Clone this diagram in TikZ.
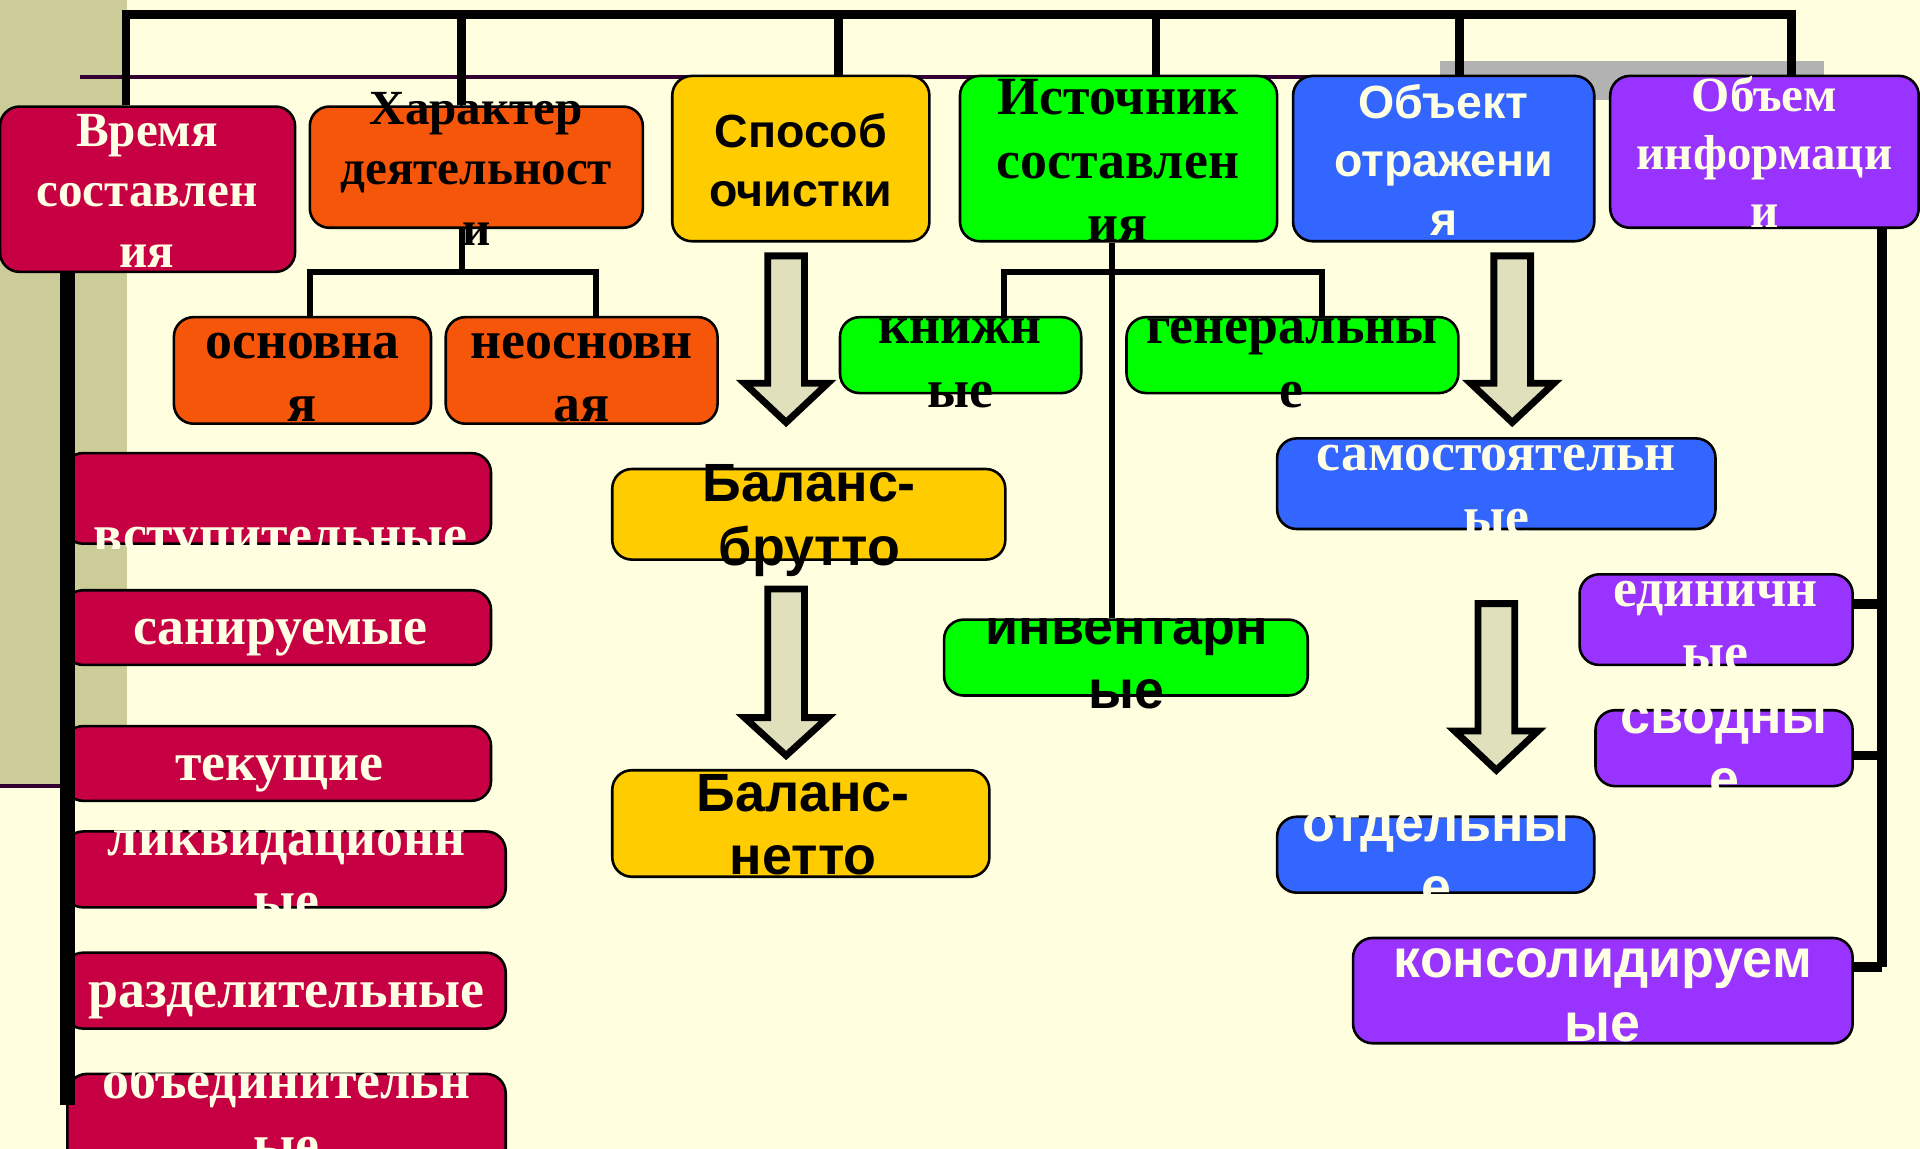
\documentclass[tikz,border=0pt]{standalone}
\usepackage{fontspec}
\setmainfont{Liberation Serif}
\setsansfont{Liberation Sans}
\usetikzlibrary{fit,calc}
\pgfdeclarelayer{back}
\pgfdeclarelayer{lines}
\pgfsetlayers{back,lines,main}
\definecolor{bg}{HTML}{FFFFE0}
\definecolor{strip}{HTML}{CCCC99}
\definecolor{crim}{HTML}{C60042}
\definecolor{orng}{HTML}{F5560A}
\definecolor{yel}{HTML}{FFCC00}
\definecolor{grn}{HTML}{00FF00}
\definecolor{blu}{HTML}{3366FF}
\definecolor{purp}{HTML}{9933FF}
\definecolor{arrfill}{HTML}{E0E0BC}
\definecolor{graybar}{HTML}{B2B2B2}
\definecolor{plum}{HTML}{330033}
\definecolor{wtxt}{HTML}{FFFFE6}
\tikzset{
  box/.style={draw=black, line width=0.6pt, rounded corners=0.16cm, inner sep=0pt},
  conn/.style={draw=black, line width=1.4pt},
  bus/.style={draw=black, line width=2pt},
  vline/.style={draw=black, line width=2.3pt},
  tA/.style={font=\fontsize{12.5}{14.8}\selectfont\bfseries, align=center, inner sep=0pt},
  tB/.style={font=\fontsize{11.4}{14.0}\selectfont\bfseries, align=center, inner sep=0pt},
  tC/.style={font=\fontsize{11.4}{13.4}\selectfont\bfseries, align=center, inner sep=0pt},
  sA/.style={font=\fontsize{12.5}{14.8}\selectfont\sffamily\bfseries, align=center, inner sep=0pt},
  sB/.style={font=\fontsize{10.8}{13.5}\selectfont\sffamily\bfseries, align=center, inner sep=0pt},
  wt/.style={text=wtxt},
  blockarrow/.style={draw=black, line width=1.6pt, fill=arrfill, line join=miter}
}
\newcommand\blockarrowpath[4]{%
  \draw[blockarrow] (#1-15,#2) -- (#1+15,#2) -- (#1+15,#3) -- (#1+34,#3) -- (#1,#4) -- (#1-34,#3) -- (#1-15,#3) -- cycle;}
\begin{document}
\begin{tikzpicture}[x=0.01cm,y=-0.01cm]
\useasboundingbox (0,0) rectangle (1568,938);
\begin{pgfonlayer}{back}
  \fill[bg] (0,0) rectangle (1568,938);
  \fill[strip] (0,0) rectangle (104,642);
  \draw[plum, line width=0.9pt] (0,642) -- (55,642);
  \draw[plum, line width=0.9pt] (65,63) -- (1180,63);
  \fill[graybar] (1176,50) rectangle (1490,82);
\end{pgfonlayer}

% ---------- top level boxes
\node[box, fill=crim, fit={(0,87)(241,222)}] (vremya) {};
\node[box, fill=orng, fit={(253,87)(525,186)}] (harakter) {};
\node[box, fill=yel,  fit={(549,62)(759,197)}] (sposob) {};
\node[box, fill=grn,  fit={(784,62)(1043,197)}] (istoch) {};
\node[box, fill=blu,  fit={(1056,62)(1302,197)}] (obekt) {};
\node[box, fill=purp, fit={(1315,62)(1567,186)}] (obem) {};

% ---------- second level boxes
\node[box, fill=orng, fit={(142,259)(352,346)}] (osn) {};
\node[box, fill=orng, fit={(364,259)(586,346)}] (neosn) {};
\node[box, fill=grn,  fit={(686,259)(883,321)}] (knizh) {};
\node[box, fill=grn,  fit={(920,259)(1191,321)}] (gener) {};
\node[box, fill=grn,  fit={(771,506)(1068,568)}] (invent) {};
\node[box, fill=yel,  fit={(500,383)(821,457)}] (brutto) {};
\node[box, fill=yel,  fit={(500,629)(808,716)}] (netto) {};
\node[box, fill=blu,  fit={(1043,358)(1401,432)}] (samost) {};
\node[box, fill=blu,  fit={(1043,667)(1302,729)}] (otdel) {};
\node[box, fill=purp, fit={(1290,469)(1513,543)}] (edin) {};
\node[box, fill=purp, fit={(1303,580)(1513,642)}] (svod) {};
\node[box, fill=purp, fit={(1105,766)(1513,852)}] (konsol) {};

% left column
\node[box, fill=crim, fit={(52,370)(401,444)}] (vstup) {};
\node[box, fill=crim, fit={(52,482)(401,543)}] (sanir) {};
\node[box, fill=crim, fit={(52,593)(401,654)}] (tekush) {};
\node[box, fill=crim, fit={(52,679)(413,741)}] (likvid) {};
\node[box, fill=crim, fit={(52,778)(413,840)}] (razdel) {};
\node[box, fill=crim, fit={(55,877)(413,965)}] (obed) {};

% ---------- connectors
\coordinate (busL) at (103,12);
\coordinate (busR) at (1463,12);
\coordinate (d2) at (377,12);
\coordinate (d3) at (685,12);
\coordinate (d4) at (944,12);
\coordinate (d5) at (1192,12);
\coordinate (hj) at (377,222);
\coordinate (h1) at (253,222);
\coordinate (h2) at (487,222);
\coordinate (iv) at (908,222);
\coordinate (i1) at (820,222);
\coordinate (i2) at (1080,222);
\coordinate (lbot) at (55,902);
\coordinate (rv) at (1537,200);
\coordinate (r1) at (1537,493);
\coordinate (r2) at (1537,617);
\coordinate (r3) at (1537,790);
\begin{pgfonlayer}{lines}
  \draw[bus] (busL |- vremya.north) -- (busL) -- (busR) -- (busR |- obem.north);
  \draw[bus] (d2) -- (d2 |- harakter.north);
  \draw[bus] (d3) -- (d3 |- sposob.north);
  \draw[bus] (d4) -- (d4 |- istoch.north);
  \draw[bus] (d5) -- (d5 |- obekt.north);
  \draw[conn] (harakter.south -| hj) -- (hj);
  \draw[conn] (osn.north -| h1) -- (h1) -- (h2) -- (h2 |- neosn.north);
  \draw[conn] (istoch.south -| iv) -- (invent.north -| iv);
  \draw[conn] (knizh.north -| i1) -- (i1) -- (i2) -- (i2 |- gener.north);
  \draw[vline] (obem.south -| rv) -- (r3);
  \draw[vline] (r1) -- (r1 -| edin.east);
  \draw[vline] (r2) -- (r2 -| svod.east);
  \draw[vline] (r3) -- (r3 -| konsol.east);
\end{pgfonlayer}
\draw[black, line width=3.4pt] (vremya.south -| lbot) -- (lbot);

% block arrows
\blockarrowpath{642}{209}{313}{345}
\blockarrowpath{642}{481}{586}{617}
\blockarrowpath{1235}{209}{313}{345}
\blockarrowpath{1222}{493}{597}{629}

% ---------- texts
\node[tB, wt] (tvremya) at (120,159) {\strut Время\\\strut составлен\\\strut ия};
\node[tB] (tharakter) at (389,141) {\strut Характер\\\strut деятельност\\\strut и};
\node[sB] (tsposob) at (654,135) {\strut Способ\\\strut очистки};
\node[tA] (tistoch) at (913,135) {\strut Источник\\\strut составлен\\\strut ия};
\node[sB, wt] (tobekt) at (1179,135) {\strut Объект\\\strut отражени\\\strut я};
\node[tC, wt] (tobem) at (1441,129) {\strut Объем\\\strut информаци\\\strut и};

\node[tA] (tosn) at (247,308) {\strut основна\\\strut я};
\node[tA] (tneosn) at (475,308) {\strut неосновн\\\strut ая};
\begin{scope}
  \clip (knizh.north west) rectangle ([yshift=-1cm]knizh.south east);
  \node[tA] (tknizh) at (784,296) {\strut книжн\\\strut ые};
\end{scope}
\begin{scope}
  \clip (gener.north west) rectangle ([yshift=-1cm]gener.south east);
  \node[tA] (tgener) at (1055,296) {\strut генеральны\\\strut е};
\end{scope}
\begin{scope}
  \clip (invent.north west) rectangle ([yshift=-1cm]invent.south east);
  \node[sA] (tinvent) at (920,542) {\strut инвентарн\\\strut ые};
\end{scope}
\node[sA] (tbrutto) at (661,425) {\strut Баланс-\\\strut брутто};
\node[sA] (tnetto) at (656,678) {\strut Баланс-\\\strut нетто};
\begin{scope}
  \clip (samost.north west) rectangle ([yshift=-0.03cm]samost.south east);
  \node[tA, wt] (tsamost) at (1222,400) {\strut самостоятельн\\\strut ые};
\end{scope}
\begin{scope}
  \clip (otdel.north west) rectangle ([yshift=-0.02cm]otdel.south east);
  \node[sA, wt] (totdel) at (1173,703) {\strut отдельны\\\strut е};
\end{scope}
\begin{scope}
  \clip ([yshift=0.2cm]edin.north west) rectangle ([yshift=-0.02cm]edin.south east);
  \node[tA, wt] (tedin) at (1401,511) {\strut единичн\\\strut ые};
\end{scope}
\begin{scope}
  \clip (svod.north west) rectangle ([yshift=-0.02cm]svod.south east);
  \node[sA, wt] (tsvod) at (1408,615) {\strut сводны\\\strut е};
\end{scope}
\node[sA, wt] (tkonsol) at (1309,814) {\strut консолидируем\\\strut ые};

\begin{scope}
  \clip ([yshift=0.5cm]vstup.north west) rectangle ([yshift=-0.03cm]vstup.south east);
  \node[tA, wt] (tvstup) at (229,441) {\strut вступительные};
\end{scope}
\node[tA, wt] (tsanir) at (229,516) {\strut санируемые};
\node[tA, wt] (ttekush) at (228,627) {\strut текущие};
\begin{scope}
  \clip (likvid.north west) rectangle ([yshift=-0.02cm]likvid.south east);
  \node[tA, wt] (tlikvid) at (234,714) {\strut ликвидационн\\\strut ые};
\end{scope}
\node[tA, wt] (trazdel) at (234,812) {\strut разделительные};
\begin{scope}
  \clip (obed.north west) rectangle (obed.south east);
  \node[tA, wt] (tobed) at (234,913) {\strut объединительн\\\strut ые};
\end{scope}
\end{tikzpicture}
\end{document}
